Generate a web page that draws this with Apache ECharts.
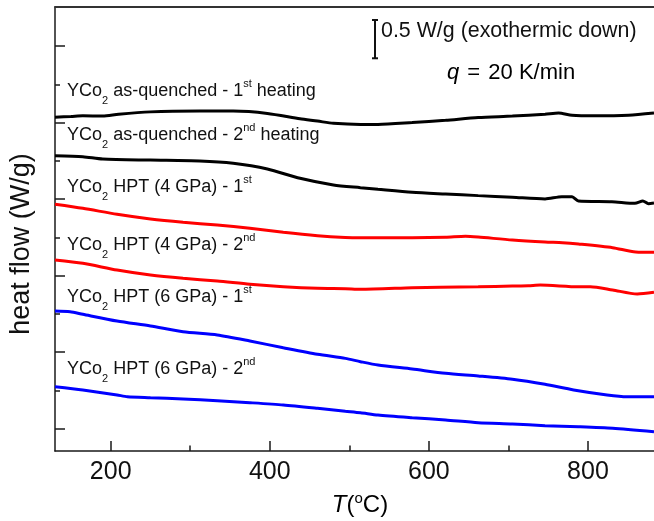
<!DOCTYPE html>
<html>
<head>
<meta charset="utf-8">
<script src="https://cdn.jsdelivr.net/npm/echarts@6/dist/echarts.min.js"></script>
<style>
  html, body { margin: 0; padding: 0; background: #fff; }
  #chart { width: 654px; height: 521px; }
</style>
</head>
<body>
<div id="chart"></div>
<script>
// DSC traces of YCo2: temperature (°C) vs. heat flow (W/g, curves offset vertically)
const asQuenched1 = [[130,4.36],[150,4.37],[165,4.38],[190,4.375],[210,4.40],[250,4.43],[312,4.44],[354,4.44],[397,4.41],[438,4.34],[460,4.31],[480,4.28],[514,4.265],[536,4.265],[579,4.29],[621,4.32],[662,4.355],[705,4.375],[746,4.40],[763,4.415],[780,4.385],[809,4.378],[851,4.386],[883,4.415]];
const asQuenched2 = [[130,3.858],[165,3.845],[190,3.814],[250,3.80],[312,3.788],[354,3.758],[397,3.684],[438,3.562],[480,3.475],[514,3.44],[536,3.419],[579,3.38],[621,3.357],[662,3.336],[705,3.315],[746,3.293],[767,3.322],[780,3.322],[788,3.266],[830,3.257],[859,3.236],[869,3.266],[876,3.23],[883,3.24]];
const hpt4First  = [[130,3.223],[165,3.17],[208,3.092],[250,3.031],[291,2.988],[334,2.952],[375,2.909],[417,2.857],[460,2.813],[495,2.79],[514,2.786],[536,2.786],[579,2.786],[621,2.792],[646,2.805],[662,2.795],[705,2.756],[746,2.73],[768,2.721],[788,2.704],[831,2.656],[860,2.60],[883,2.596]];
const hpt4Second = [[130,2.495],[165,2.452],[208,2.364],[250,2.299],[291,2.256],[334,2.221],[375,2.178],[417,2.146],[460,2.125],[495,2.12],[514,2.112],[579,2.133],[614,2.14],[662,2.146],[705,2.155],[725,2.159],[740,2.168],[788,2.146],[803,2.146],[831,2.103],[862,2.051],[883,2.073]];
const hpt6First  = [[130,1.829],[149,1.82],[165,1.786],[208,1.698],[250,1.633],[291,1.558],[334,1.515],[375,1.437],[417,1.349],[460,1.263],[495,1.21],[514,1.167],[536,1.123],[579,1.071],[621,1.015],[662,0.98],[705,0.937],[746,0.871],[782,0.797],[824,0.732],[849,0.709],[883,0.709]];
const hpt6Second = [[130,0.84],[165,0.797],[208,0.732],[221,0.709],[250,0.696],[291,0.679],[334,0.657],[375,0.631],[417,0.601],[460,0.558],[495,0.52],[514,0.50],[536,0.47],[579,0.435],[621,0.405],[662,0.37],[705,0.353],[746,0.331],[788,0.317],[831,0.297],[883,0.252]];

const seriesData   = [asQuenched1, asQuenched2, hpt4First, hpt4Second, hpt6First, hpt6Second];
const seriesColors = ['#000000', '#000000', '#ff0000', '#ff0000', '#0000ff', '#0000ff'];
// curve captions: [before subscript, subscript, middle, superscript, tail]
const captions = [
  ['YCo', '2', ' as-quenched - 1', 'st', ' heating'],
  ['YCo', '2', ' as-quenched - 2', 'nd', ' heating'],
  ['YCo', '2', ' HPT (4 GPa) - 1', 'st', ''],
  ['YCo', '2', ' HPT (4 GPa) - 2', 'nd', ''],
  ['YCo', '2', ' HPT (6 GPa) - 1', 'st', ''],
  ['YCo', '2', ' HPT (6 GPa) - 2', 'nd', '']
];
const captionY = [94, 138, 190, 248, 300, 372];

const xMajorTicks = [200, 400, 600, 800];
const xMinorTicks = [300, 500, 700];
const yMajorTicks = [0.29, 1.29, 2.29, 3.29, 4.29, 5.29];
const yMinorTicks = [0.79, 1.79, 2.79, 3.79, 4.79];
const scaleBarValue = 0.5;   // W/g

const FONT = '"Liberation Sans", Arial, sans-serif';
const INK = '#111';
const AXIS = '#1a1a1a';

const X_MIN = 130, X_MAX = 883, Y_MIN = 0, Y_MAX = 5.8;

const chart = echarts.init(document.getElementById('chart'), null, { renderer: 'canvas' });

const baseX = { type: 'value', min: X_MIN, max: X_MAX, splitLine: { show: false } };
const baseY = { type: 'value', min: Y_MIN, max: Y_MAX, splitLine: { show: false } };

const richCaption = {
  n:   { fontSize: 18, fontFamily: FONT, color: INK, lineHeight: 30 },
  sub: { fontSize: 11, fontFamily: FONT, color: INK, lineHeight: 12, verticalAlign: 'bottom' },
  sup: { fontSize: 11, fontFamily: FONT, color: INK, verticalAlign: 'top', padding: [2, 0, 0, 0] }
};

const captionGraphics = captions.map((c, i) => ({
  type: 'text',
  left: 67,
  top: captionY[i] - 16,
  style: {
    text: '{n|' + c[0] + '}{sub|' + c[1] + '}{n|' + c[2] + '}{sup|' + c[3] + '}' + (c[4] ? '{n|' + c[4] + '}' : ''),
    rich: richCaption,
    fill: INK
  },
  z: 10
}));

const option = {
  backgroundColor: '#fff',
  animation: false,
  grid: { left: 55, top: 7, right: 0, bottom: 70, containLabel: false },
  xAxis: [
    Object.assign({}, baseX, {
      position: 'bottom',
      axisLine: { show: true, onZero: false, lineStyle: { color: AXIS, width: 1.5 } },
      axisTick: { show: true, inside: true, length: 10, customValues: xMajorTicks, lineStyle: { color: AXIS, width: 1.5 } },
      axisLabel: { show: true, customValues: xMajorTicks, fontSize: 25, fontFamily: FONT, color: INK, margin: 9 }
    }),
    Object.assign({}, baseX, {
      position: 'bottom',
      axisLine: { show: false },
      axisTick: { show: true, inside: true, length: 5.5, customValues: xMinorTicks, lineStyle: { color: AXIS, width: 1.5 } },
      axisLabel: { show: false }
    }),
    Object.assign({}, baseX, {
      position: 'top',
      axisLine: { show: true, onZero: false, lineStyle: { color: '#333', width: 1.8 } },
      axisTick: { show: false },
      axisLabel: { show: false }
    })
  ],
  yAxis: [
    Object.assign({}, baseY, {
      position: 'left',
      axisLine: { show: true, onZero: false, lineStyle: { color: AXIS, width: 1.5 } },
      axisTick: { show: true, inside: true, length: 10, customValues: yMajorTicks, lineStyle: { color: AXIS, width: 1.5 } },
      axisLabel: { show: false }
    }),
    Object.assign({}, baseY, {
      position: 'left',
      axisLine: { show: false },
      axisTick: { show: true, inside: true, length: 5, customValues: yMinorTicks, lineStyle: { color: AXIS, width: 1.5 } },
      axisLabel: { show: false }
    })
  ],
  series: seriesData.map((d, i) => ({
    type: 'line',
    xAxisIndex: 0,
    yAxisIndex: 0,
    data: d,
    showSymbol: false,
    symbol: 'none',
    smooth: 0.25,
    clip: false,
    lineStyle: { color: seriesColors[i], width: 3 },
    z: 3
  })),
  graphic: [
    {
      type: 'text',
      x: 22, y: 244,
      rotation: Math.PI / 2,
      style: { text: 'heat flow (W/g)', fontSize: 27, fontFamily: FONT, fill: INK, align: 'center', verticalAlign: 'middle' }
    },
    {
      type: 'text',
      x: 360, y: 505,
      style: {
        text: '{i|T}{n|(}{sup|o}{n|C)}',
        align: 'center', verticalAlign: 'middle',
        rich: {
          i:   { fontSize: 24, fontFamily: FONT, fontStyle: 'italic', color: INK, lineHeight: 30 },
          n:   { fontSize: 24, fontFamily: FONT, color: INK, lineHeight: 30 },
          sup: { fontSize: 15, fontFamily: FONT, color: INK, verticalAlign: 'top', padding: [1, 0, 0, 0] }
        }
      }
    },
    {
      type: 'text',
      x: 381, y: 31,
      style: { text: '0.5 W/g (exothermic down)', fontSize: 21.4, fontFamily: FONT, fill: INK, align: 'left', verticalAlign: 'middle' }
    },
    {
      type: 'text',
      x: 447, y: 73,
      style: {
        text: '{i|q}{n| }{eq|=}{n| 20 K/min}',
        align: 'left', verticalAlign: 'middle',
        rich: {
          i:  { fontSize: 22, fontFamily: FONT, fontStyle: 'italic', color: INK },
          n:  { fontSize: 22, fontFamily: FONT, color: INK },
          eq: { fontSize: 22, fontFamily: FONT, color: INK, padding: [0, 2] }
        }
      }
    }
  ].concat(captionGraphics)
};

chart.setOption(option);

// 0.5 W/g scale bar, sized through the y axis
const p0 = chart.convertToPixel({ yAxisIndex: 0 }, 0);
const p1 = chart.convertToPixel({ yAxisIndex: 0 }, scaleBarValue);
const barLen = Math.abs(p0 - p1);
const barX = 375, barTop = 20, cap = 3;
chart.setOption({
  graphic: option.graphic.concat([
    {
      type: 'group',
      children: [
        { type: 'line', shape: { x1: barX, y1: barTop, x2: barX, y2: barTop + barLen }, style: { stroke: '#111', lineWidth: 2 } },
        { type: 'line', shape: { x1: barX - cap, y1: barTop, x2: barX + cap, y2: barTop }, style: { stroke: '#111', lineWidth: 2 } },
        { type: 'line', shape: { x1: barX - cap, y1: barTop + barLen, x2: barX + cap, y2: barTop + barLen }, style: { stroke: '#111', lineWidth: 2 } }
      ]
    }
  ])
}, { replaceMerge: ['graphic'] });
</script>
</body>
</html>
